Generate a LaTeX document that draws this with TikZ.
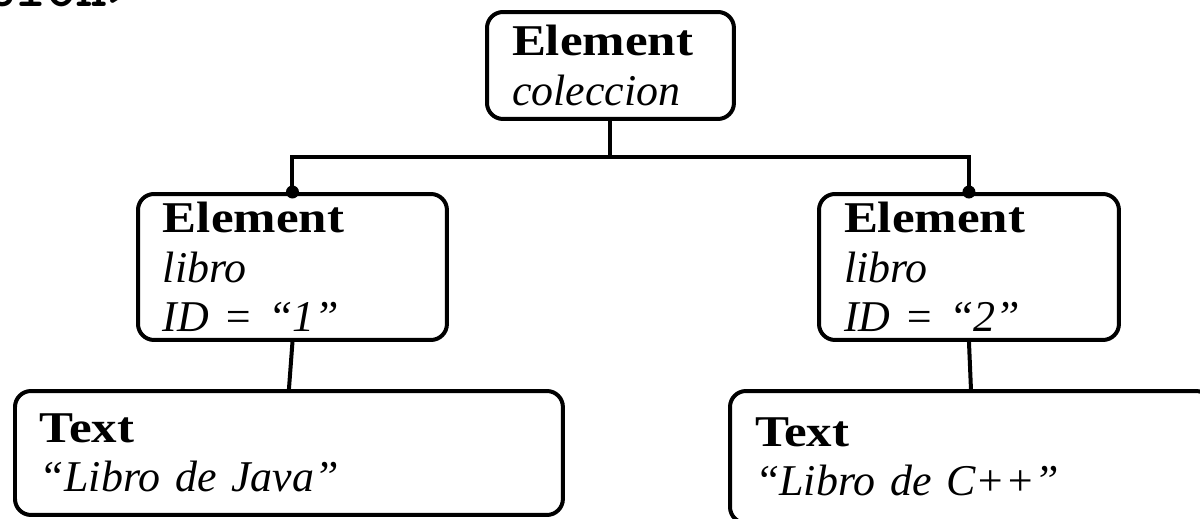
\documentclass[tikz,border=0pt]{standalone}
\usepackage{fontspec}
\setmainfont{Liberation Serif}[BoldFeatures={FakeStretch=1.16}]
\usetikzlibrary{calc}

\begin{document}
\begin{tikzpicture}[x=0.02cm, y=-0.02cm]
    % Define colours
    \definecolor{borderColour}{HTML}{000000}

    % Define styles
    \tikzset{
      treeBox/.style={draw=borderColour, line width=0.08cm, rounded corners=0.32cm,
        anchor=north west, align=left, inner xsep=0.5cm, inner ysep=0pt,
        font=\fontsize{25}{28}\selectfont},
      link/.style={draw=borderColour, line width=0.08cm},
    }
    \def\dotSize{0.13cm}

  % Page frame
  \useasboundingbox (0,0) rectangle (1200,518);
  \clip (0,0) rectangle (1200,518);

  % Closing tag of the document
  \node[anchor=base east, inner sep=0pt, font=\ttfamily\bfseries\fontsize{33}{36}\selectfont]
    (cierre) at (138,6) {</coleccion>};

  % Draw the tree nodes
  \node[treeBox, text width=3.94cm, minimum height=2.14cm] (coleccion) at (485,10)
    {\textbf{Element}\\\textit{coleccion}};
  \node[treeBox, text width=5.18cm, minimum height=2.92cm] (libroA) at (136,192)
    {\textbf{Element}\\\textit{libro}\\\textit{ID = ``1''}};
  \node[treeBox, text width=5.0cm, minimum height=2.92cm] (libroB) at (817,192)
    {\textbf{Element}\\\textit{libro}\\\textit{ID = ``2''}};
  \node[treeBox, text width=9.96cm, minimum height=2.48cm] (textoA) at (13,389)
    {\textbf{Text}\\\textit{``Libro de Java''}};
  \node[treeBox, text width=8.64cm, minimum height=2.64cm] (textoB) at (728,389)
    {\textbf{Text}\\\textit{``Libro de C++''}};

  % Connect the nodes
  \coordinate (bus) at ($(coleccion.south)+(0,36)$);
  \draw[link] (coleccion.south) -- (bus);
  \draw[link] (libroA.north) |- (bus) -| (libroB.north);
  \draw[link] (libroA.south) -- (textoA.north);
  \draw[link] (libroB.south) -- (textoB.north);

  % Mark the children
  \fill[borderColour] (libroA.north) circle (\dotSize);
  \fill[borderColour] (libroB.north) circle (\dotSize);

\end{tikzpicture}
\end{document}
